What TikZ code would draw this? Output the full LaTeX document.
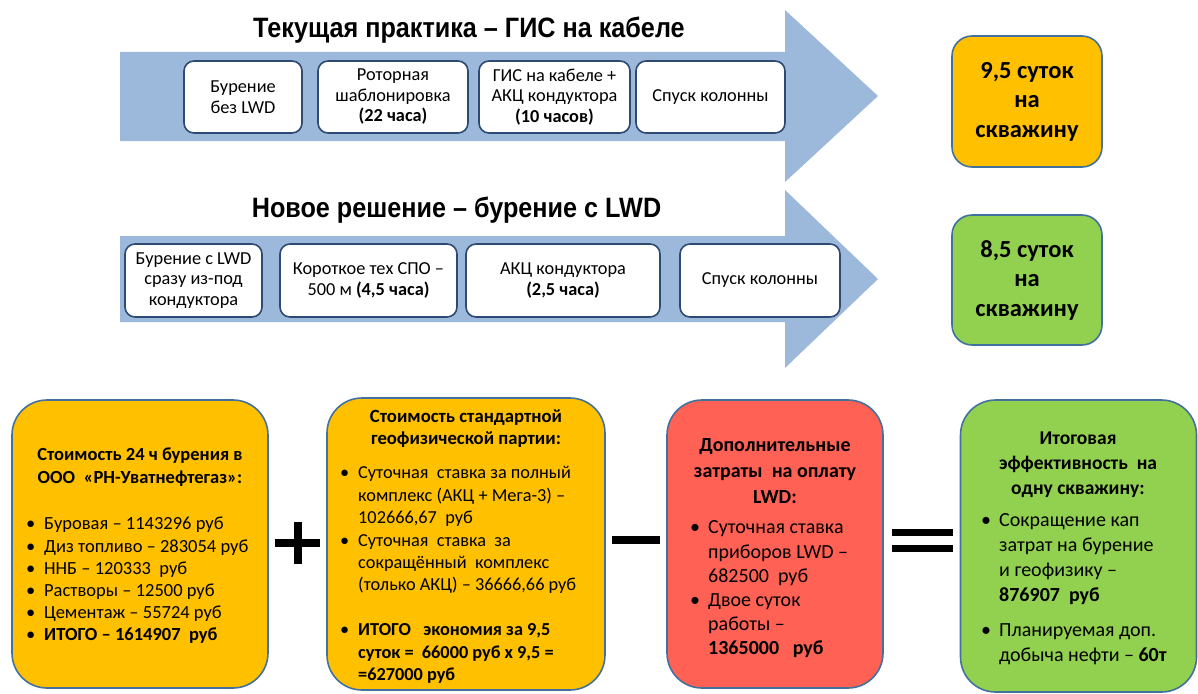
\documentclass[tikz,border=0pt]{standalone}
\usepackage{fontspec}
\setmainfont{Carlito}
\newfontfamily\narrowsans[FakeStretch=0.9]{Liberation Sans}
\definecolor{arrowblue}{HTML}{9CB8DB}
\definecolor{edgeblue}{HTML}{41719C}
\definecolor{boxedge}{HTML}{2E4A72}
\definecolor{orng}{HTML}{FFC000}
\definecolor{grn}{HTML}{92D050}
\definecolor{rd}{HTML}{FF6155}
\newcommand{\mybul}{\makebox[18pt][l]{•}}
\newcommand{\myind}{\hspace*{18pt}}
\begin{document}
\begin{tikzpicture}[x=1pt,y=-1pt,
  stepbox/.style={draw=boxedge, line width=1.6pt, fill=white, rounded corners=10pt,
    align=center, font=\fontsize{18.3}{20.5}\selectfont, inner sep=0pt},
  resbox/.style={draw=edgeblue, line width=1.6pt, rounded corners=20pt, align=center,
    font=\bfseries\fontsize{24.5}{29.5}\selectfont, inner sep=0pt, minimum width=150pt},
  bigbox/.style={draw=edgeblue, line width=1.6pt, rounded corners=35pt, inner sep=0pt},
  titletext/.style={font=\narrowsans\bfseries\fontsize{28}{30}\selectfont, inner sep=0pt},
  boxtitle/.style={font=\bfseries\fontsize{18.5}{23}\selectfont, align=center, inner sep=0pt},
  bullist/.style={align=left, inner sep=0pt, anchor=west},
  sign/.style={line width=8pt, black}
]
\useasboundingbox (0,0) rectangle (1198,693);
% arrows
\fill[arrowblue] (120,52) -- (785,52) -- (785,10) -- (878,96) -- (785,182) -- (785,141) -- (120,141) -- cycle;
\fill[arrowblue] (120,236) -- (785,236) -- (785,190) -- (878,279) -- (785,368) -- (785,322) -- (120,322) -- cycle;
\node[titletext] (t1) at (469,30) {Текущая практика – ГИС на кабеле};
\node[titletext] (t2) at (456.5,210) {Новое решение – бурение с LWD};
% top row
\node[stepbox, minimum width=118pt, minimum height=72pt] (b1) at (243,97) {Бурение\\без LWD};
\node[stepbox, minimum width=150pt, minimum height=72pt] (b2) at (393,97) {Роторная\\шаблонировка\\\textbf{(22 часа)}};
\node[stepbox, minimum width=151pt, minimum height=72pt] (b3) at (554.5,97) {ГИС на кабеле +\\АКЦ кондуктора\\\textbf{(10 часов)}};
\node[stepbox, minimum width=149pt, minimum height=72pt] (b4) at (710.5,97) {Спуск колонны};
% second row
\node[stepbox, minimum width=137pt, minimum height=73pt] (s1) at (193.5,280.5) {Бурение с LWD\\сразу из-под\\кондуктора};
\node[stepbox, minimum width=177pt, minimum height=73pt] (s2) at (368.5,280.5) {Короткое тех СПО –\\500 м \textbf{(4,5 часа)}};
\node[stepbox, minimum width=194pt, minimum height=73pt] (s3) at (563,280.5) {АКЦ кондуктора\\\textbf{(2,5 часа)}};
\node[stepbox, minimum width=160pt, minimum height=73pt] (s4) at (760,280.5) {Спуск колонны};
% result boxes
\node[resbox, fill=orng, minimum height=131pt] (r1) at (1027,101.5) {9,5 суток\\на\\скважину};
\node[resbox, fill=grn, minimum height=130pt] (r2) at (1027,280) {8,5 суток\\на\\скважину};
% bottom boxes
\node[bigbox, fill=orng, minimum width=256pt, minimum height=288pt] (A) at (140,544) {};
\node[bigbox, fill=orng, minimum width=278pt, minimum height=292pt] (B) at (466,544) {};
\node[bigbox, fill=rd, minimum width=216pt, minimum height=288pt] (C) at (775,544) {};
\node[bigbox, fill=grn, minimum width=236pt, minimum height=292pt] (D) at (1078.5,546) {};
% box A text
\node[boxtitle] (At) at (140,467.5) {Стоимость 24 ч бурения в\\ООО~~«РН-Уватнефтегаз»:};
\node[bullist, font=\fontsize{18.5}{22.2}\selectfont] (Al) at (26,580.5) {\mybul Буровая – 1143296 руб\\
\mybul Диз топливо – 283054 руб\\
\mybul ННБ – 120333~ руб\\
\mybul Растворы – 12500 руб\\
\mybul Цементаж – 55724 руб\\
\mybul \textbf{ИТОГО – 1614907~ руб}};
% box B text
\node[boxtitle, font=\bfseries\fontsize{18.7}{22}\selectfont] (Bt) at (466,429) {Стоимость стандартной\\геофизической партии:};
\node[bullist, font=\fontsize{18.3}{22.4}\selectfont] (Bl) at (340,575) {\mybul Суточная~ ставка за полный\\
\myind комплекс (АКЦ + Мега-3) –\\
\myind 102666,67~ руб\\
\mybul Суточная~ ставка~ за\\
\myind сокращённый~ комплекс\\
\myind (только АКЦ) – 36666,66 руб\\[22.4pt]
\mybul \textbf{ИТОГО~~ экономия за 9,5}\\
\myind \textbf{суток = ~66000 руб х 9,5 =}\\
\myind \textbf{=627000 руб}};
% box C text
\node[boxtitle, font=\bfseries\fontsize{20}{26}\selectfont] (Ct) at (775,471) {Дополнительные\\затраты~ на оплату\\LWD:};
\node[bullist, font=\fontsize{20}{24.2}\selectfont] (Cl) at (690,589.5) {\mybul Суточная ставка\\
\myind приборов LWD –\\
\myind 682500~ руб\\
\mybul Двое суток\\
\myind работы –\\
\myind \textbf{1365000~~ руб}};
% box D text
\node[boxtitle, font=\bfseries\fontsize{19.5}{25}\selectfont] (Dt) at (1078,465) {Итоговая\\эффективность~ на\\одну скважину:};
\node[bullist, font=\fontsize{20}{25}\selectfont] (Dl) at (981,589.5) {\mybul Сокращение кап\\
\myind затрат на бурение\\
\myind и геофизику –\\
\myind \textbf{876907~ руб}\\[10pt]
\mybul Планируемая доп.\\
\myind добыча нефти – \textbf{60т}};
% operators
\draw[sign] (275,543) -- (320,543);
\draw[sign] (297.5,522) -- (297.5,564);
\draw[sign] (612,540) -- (660,540);
\draw[sign, line width=7pt] (892,532) -- (953,532);
\draw[sign, line width=7pt] (892,548) -- (953,548);
\end{tikzpicture}
\end{document}
